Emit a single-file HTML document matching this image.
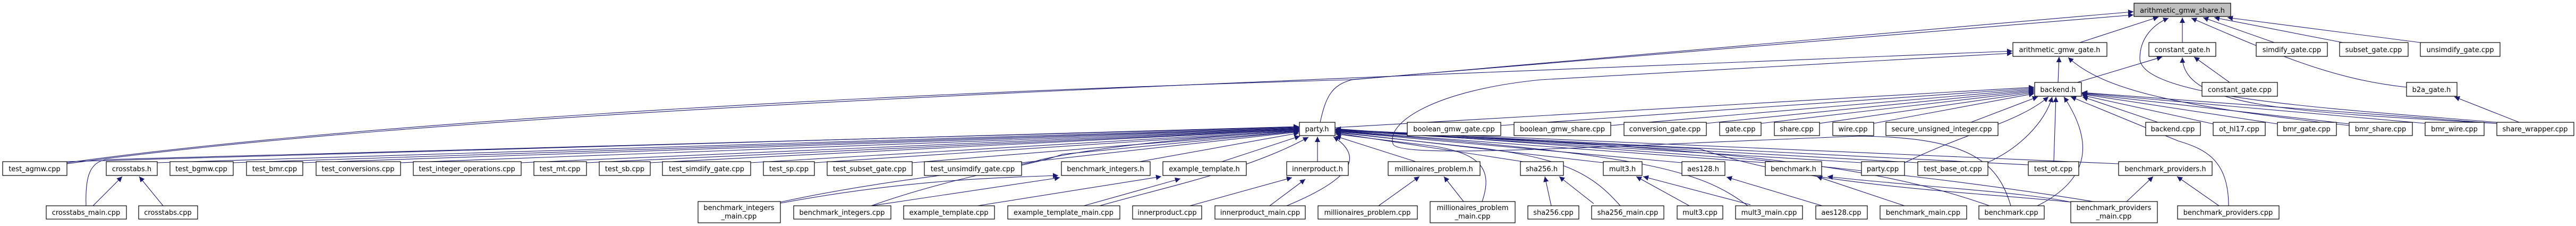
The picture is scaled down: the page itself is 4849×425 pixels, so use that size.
<!DOCTYPE html>
<html><head><meta charset="utf-8"><style>
html,body{margin:0;padding:0;background:#fff;}
svg{display:block;}
.b{fill:#fff;stroke:#000;stroke-width:1.2}
.g{fill:#bfbfbf;stroke:#000;stroke-width:1.2}
.s{fill:none;stroke:#191970;stroke-width:1.1}
text{font-family:"DejaVu Sans","Liberation Sans",sans-serif;font-size:13px;fill:#000;text-anchor:middle}
</style></head><body>
<svg width="4849" height="425" viewBox="0 0 4849 425" xmlns="http://www.w3.org/2000/svg">
<defs><marker id="a" viewBox="0 0 10 10" refX="10" refY="5" markerWidth="10" markerHeight="10" markerUnits="userSpaceOnUse" orient="auto"><path d="M0,0 L10,5 L0,10 z" fill="#191970"/></marker></defs>
<g class="s" marker-end="url(#a)">
<!-- to arithmetic_gmw_share.h -->
<path d="M126,306 C600,240 1500,180 2540,150 L4016,28"/>
<path d="M2485,230 C2495,185 2505,160 2545,150 L4016,22"/>
<path d="M3915,80 L4063,32"/>
<path d="M4108,80 L4108,33"/>
<path d="M4281,80 L4147,33"/>
<path d="M4410,80 L4168,33"/>
<path d="M4556,80 L4193,33"/>
<path d="M4530,164 C4400,150 4300,110 4125,34"/>
<path d="M4700,230 C4400,205 4030,185 4028,110 C4028,70 4055,45 4082,34"/>
<!-- to arithmetic_gmw_gate.h -->
<path d="M126,308 C900,200 2500,150 3788,96"/>
<path d="M3785,387 C3760,300 3700,258 3500,256 C3000,275 2625,300 2622,270 C2610,230 2700,170 2900,150 L3788,100"/>
<path d="M3874,155 L3876,107"/>
<path d="M4422,236 C4100,200 3960,170 3893,108"/>
<!-- to constant_gate.h -->
<path d="M3910,155 L4070,107"/>
<path d="M4197,155 L4130,107"/>
<path d="M4700,232 C4300,210 4110,200 4108,108"/>
<!-- b2a -->
<path d="M4742,230 L4620,182"/>
<!-- to backend.h -->
<path d="M2513,240 L3829,164"/>
<path d="M2825,236 L3829,166"/>
<path d="M3032,236 L3829,168"/>
<path d="M3212,232 L3829,170"/>
<path d="M3315,232 L3829,172"/>
<path d="M3425,232 L3829,174"/>
<path d="M3527,232 L3829,176"/>
<path d="M3710,230 L3836,182"/>
<path d="M3585,306 C3700,250 3800,230 3856,182"/>
<path d="M3740,306 C3800,280 3850,230 3863,182"/>
<path d="M3866,304 L3870,182"/>
<path d="M3835,387 C3950,330 3930,250 3885,182"/>
<path d="M4195,387 C4195,300 4150,280 4100,265 L3898,182"/>
<path d="M4062,230 L3920,182"/>
<path d="M4166,233 L3919,179"/>
<path d="M4287,233 L3919,177"/>
<path d="M4422,233 L3919,176"/>
<path d="M4565,232 L3919,175"/>
<path d="M4700,232 L3919,174"/>
<!-- to party.h left -->
<path d="M126,304 L2445,238"/>
<path d="M296,306 L2445,240"/>
<path d="M162,387 C160,330 170,305 200,300 L2445,239"/>
<path d="M439,306 L2445,241"/>
<path d="M570,306 L2445,242"/>
<path d="M754,306 L2445,243"/>
<path d="M981,306 L2445,243"/>
<path d="M1104,306 L2445,244"/>
<path d="M1224,306 L2445,244"/>
<path d="M1413,306 L2445,245"/>
<path d="M1533,306 L2445,246"/>
<path d="M1717,306 L2445,247"/>
<path d="M1923,306 L2445,248"/>
<path d="M2145,304 L2445,250"/>
<path d="M2300,304 L2447,256"/>
<path d="M1469,380 C1700,330 1900,320 1960,300 C2100,270 2300,255 2445,246"/>
<path d="M1640,387 C1800,330 1950,310 2000,290 L2445,247"/>
<path d="M2070,387 C2200,350 2350,320 2463,258"/>
<path d="M2480,304 L2480,257"/>
<path d="M2422,387 C2560,330 2560,290 2510,257"/>
<path d="M2665,304 L2514,256"/>
<path d="M2790,379 C2810,320 2790,290 2700,275 L2514,252"/>
<!-- to party.h right -->
<path d="M2880,306 L2514,250"/>
<path d="M3050,387 C3000,330 2950,300 2800,280 L2514,249"/>
<path d="M3018,306 L2514,248"/>
<path d="M3290,387 C3200,320 3100,290 2514,247"/>
<path d="M3166,306 L2514,247"/>
<path d="M3323,306 L2514,246"/>
<path d="M3504,306 L2514,245"/>
<path d="M3610,306 L2514,245"/>
<path d="M3818,310 L2514,244"/>
<path d="M3988,308 L2514,244"/>
<path d="M3745,387 C3500,300 3200,280 2514,243"/>
<path d="M3940,379 C3700,340 3500,320 3300,300 L2514,242"/>
<path d="M3898,380 C3700,360 3400,350 3200,280 L2514,246"/>
<!-- children to headers -->
<path d="M175,387 L230,332"/>
<path d="M307,387 L262,332"/>
<path d="M1469,382 C1700,340 1850,335 1992,330"/>
<path d="M1640,387 L1995,334"/>
<path d="M1840,387 L2186,332"/>
<path d="M2040,387 L2222,336"/>
<path d="M2240,387 L2432,334"/>
<path d="M2390,387 L2457,337"/>
<path d="M2595,387 L2672,332"/>
<path d="M2755,379 L2718,332"/>
<path d="M2920,387 L2908,332"/>
<path d="M3000,383 L2935,332"/>
<path d="M3180,387 L3080,332"/>
<path d="M3295,385 L3093,332"/>
<path d="M3430,387 L3250,333"/>
<path d="M3585,387 L3420,332"/>
<path d="M3898,380 C3800,360 3600,350 3440,332"/>
<path d="M4003,379 L4053,332"/>
<path d="M4177,387 L4098,332"/>
</g>

<!-- nodes -->
<rect class="g" x="4017" y="6" width="182" height="25"/><text x="4108" y="24">arithmetic_gmw_share.h</text>

<rect class="b" x="3789" y="80" width="177" height="26"/><text x="3877" y="98">arithmetic_gmw_gate.h</text>
<rect class="b" x="4045" y="80" width="126" height="26"/><text x="4108" y="98">constant_gate.h</text>
<rect class="b" x="4247" y="80" width="134" height="26"/><text x="4314" y="98">simdify_gate.cpp</text>
<rect class="b" x="4404" y="80" width="129" height="26"/><text x="4468" y="98">subset_gate.cpp</text>
<rect class="b" x="4556" y="80" width="150" height="26"/><text x="4631" y="98">unsimdify_gate.cpp</text>

<rect class="b" x="3830" y="155" width="88" height="26"/><text x="3874" y="173">backend.h</text>
<rect class="b" x="4145" y="155" width="142" height="26"/><text x="4216" y="173">constant_gate.cpp</text>
<rect class="b" x="4530" y="155" width="95" height="26"/><text x="4577" y="173">b2a_gate.h</text>

<rect class="b" x="2446" y="230" width="67" height="25"/><text x="2479" y="247">party.h</text>
<rect class="b" x="2649" y="230" width="176" height="25"/><text x="2737" y="247">boolean_gmw_gate.cpp</text>
<rect class="b" x="2850" y="230" width="182" height="25"/><text x="2941" y="247">boolean_gmw_share.cpp</text>
<rect class="b" x="3057" y="230" width="155" height="25"/><text x="3134" y="247">conversion_gate.cpp</text>
<rect class="b" x="3237" y="230" width="78" height="25"/><text x="3276" y="247">gate.cpp</text>
<rect class="b" x="3340" y="230" width="85" height="25"/><text x="3382" y="247">share.cpp</text>
<rect class="b" x="3450" y="230" width="77" height="25"/><text x="3488" y="247">wire.cpp</text>
<rect class="b" x="3550" y="230" width="211" height="25"/><text x="3655" y="247">secure_unsigned_integer.cpp</text>
<rect class="b" x="4039" y="230" width="103" height="25"/><text x="4090" y="247">backend.cpp</text>
<rect class="b" x="4166" y="230" width="98" height="25"/><text x="4215" y="247">ot_hl17.cpp</text>
<rect class="b" x="4287" y="230" width="111" height="25"/><text x="4342" y="247">bmr_gate.cpp</text>
<rect class="b" x="4422" y="230" width="119" height="25"/><text x="4481" y="247">bmr_share.cpp</text>
<rect class="b" x="4565" y="230" width="111" height="25"/><text x="4620" y="247">bmr_wire.cpp</text>
<rect class="b" x="4700" y="230" width="145" height="25"/><text x="4772" y="247">share_wrapper.cpp</text>

<rect class="b" x="5" y="304" width="121" height="26"/><text x="65" y="322">test_agmw.cpp</text>
<rect class="b" x="200" y="304" width="96" height="26"/><text x="248" y="322">crosstabs.h</text>
<rect class="b" x="320" y="304" width="119" height="26"/><text x="379" y="322">test_bgmw.cpp</text>
<rect class="b" x="464" y="304" width="106" height="26"/><text x="517" y="322">test_bmr.cpp</text>
<rect class="b" x="595" y="304" width="159" height="26"/><text x="674" y="322">test_conversions.cpp</text>
<rect class="b" x="778" y="304" width="203" height="26"/><text x="879" y="322">test_integer_operations.cpp</text>
<rect class="b" x="1005" y="304" width="99" height="26"/><text x="1054" y="322">test_mt.cpp</text>
<rect class="b" x="1128" y="304" width="96" height="26"/><text x="1176" y="322">test_sb.cpp</text>
<rect class="b" x="1247" y="304" width="166" height="26"/><text x="1330" y="322">test_simdify_gate.cpp</text>
<rect class="b" x="1437" y="304" width="96" height="26"/><text x="1485" y="322">test_sp.cpp</text>
<rect class="b" x="1557" y="304" width="160" height="26"/><text x="1637" y="322">test_subset_gate.cpp</text>
<rect class="b" x="1740" y="304" width="183" height="26"/><text x="1831" y="322">test_unsimdify_gate.cpp</text>
<rect class="b" x="1998" y="304" width="167" height="26"/><text x="2081" y="322">benchmark_integers.h</text>
<rect class="b" x="2189" y="304" width="157" height="26"/><text x="2267" y="322">example_template.h</text>
<rect class="b" x="2422" y="304" width="116" height="26"/><text x="2480" y="322">innerproduct.h</text>
<rect class="b" x="2613" y="304" width="173" height="26"/><text x="2699" y="322">millionaires_problem.h</text>
<rect class="b" x="2862" y="304" width="81" height="26"/><text x="2902" y="322">sha256.h</text>
<rect class="b" x="3018" y="304" width="73" height="26"/><text x="3054" y="322">mult3.h</text>
<rect class="b" x="3166" y="304" width="81" height="26"/><text x="3206" y="322">aes128.h</text>
<rect class="b" x="3323" y="304" width="106" height="26"/><text x="3376" y="322">benchmark.h</text>
<rect class="b" x="3504" y="304" width="81" height="26"/><text x="3544" y="322">party.cpp</text>
<rect class="b" x="3610" y="304" width="132" height="26"/><text x="3676" y="322">test_base_ot.cpp</text>
<rect class="b" x="3818" y="304" width="95" height="26"/><text x="3865" y="322">test_ot.cpp</text>
<rect class="b" x="3988" y="304" width="176" height="26"/><text x="4076" y="322">benchmark_providers.h</text>

<rect class="b" x="87" y="387" width="151" height="25"/><text x="162" y="404">crosstabs_main.cpp</text>
<rect class="b" x="261" y="387" width="111" height="25"/><text x="316" y="404">crosstabs.cpp</text>
<rect class="b" x="1314" y="379" width="155" height="40"/><text x="1391" y="395">benchmark_integers</text><text x="1391" y="411">_main.cpp</text>
<rect class="b" x="1494" y="387" width="183" height="25"/><text x="1585" y="404">benchmark_integers.cpp</text>
<rect class="b" x="1701" y="387" width="171" height="25"/><text x="1786" y="404">example_template.cpp</text>
<rect class="b" x="1897" y="387" width="211" height="25"/><text x="2002" y="404">example_template_main.cpp</text>
<rect class="b" x="2132" y="387" width="130" height="25"/><text x="2197" y="404">innerproduct.cpp</text>
<rect class="b" x="2287" y="387" width="170" height="25"/><text x="2372" y="404">innerproduct_main.cpp</text>
<rect class="b" x="2481" y="387" width="187" height="25"/><text x="2574" y="404">millionaires_problem.cpp</text>
<rect class="b" x="2692" y="379" width="160" height="40"/><text x="2772" y="395">millionaires_problem</text><text x="2772" y="411">_main.cpp</text>
<rect class="b" x="2876" y="387" width="96" height="25"/><text x="2924" y="404">sha256.cpp</text>
<rect class="b" x="2996" y="387" width="136" height="25"/><text x="3064" y="404">sha256_main.cpp</text>
<rect class="b" x="3157" y="387" width="86" height="25"/><text x="3200" y="404">mult3.cpp</text>
<rect class="b" x="3267" y="387" width="126" height="25"/><text x="3330" y="404">mult3_main.cpp</text>
<rect class="b" x="3418" y="387" width="97" height="25"/><text x="3466" y="404">aes128.cpp</text>
<rect class="b" x="3539" y="387" width="163" height="25"/><text x="3620" y="404">benchmark_main.cpp</text>
<rect class="b" x="3725" y="387" width="123" height="25"/><text x="3786" y="404">benchmark.cpp</text>
<rect class="b" x="3898" y="379" width="163" height="40"/><text x="3979" y="395">benchmark_providers</text><text x="3979" y="411">_main.cpp</text>
<rect class="b" x="4099" y="387" width="191" height="25"/><text x="4194" y="404">benchmark_providers.cpp</text>
</svg>
</body></html>
